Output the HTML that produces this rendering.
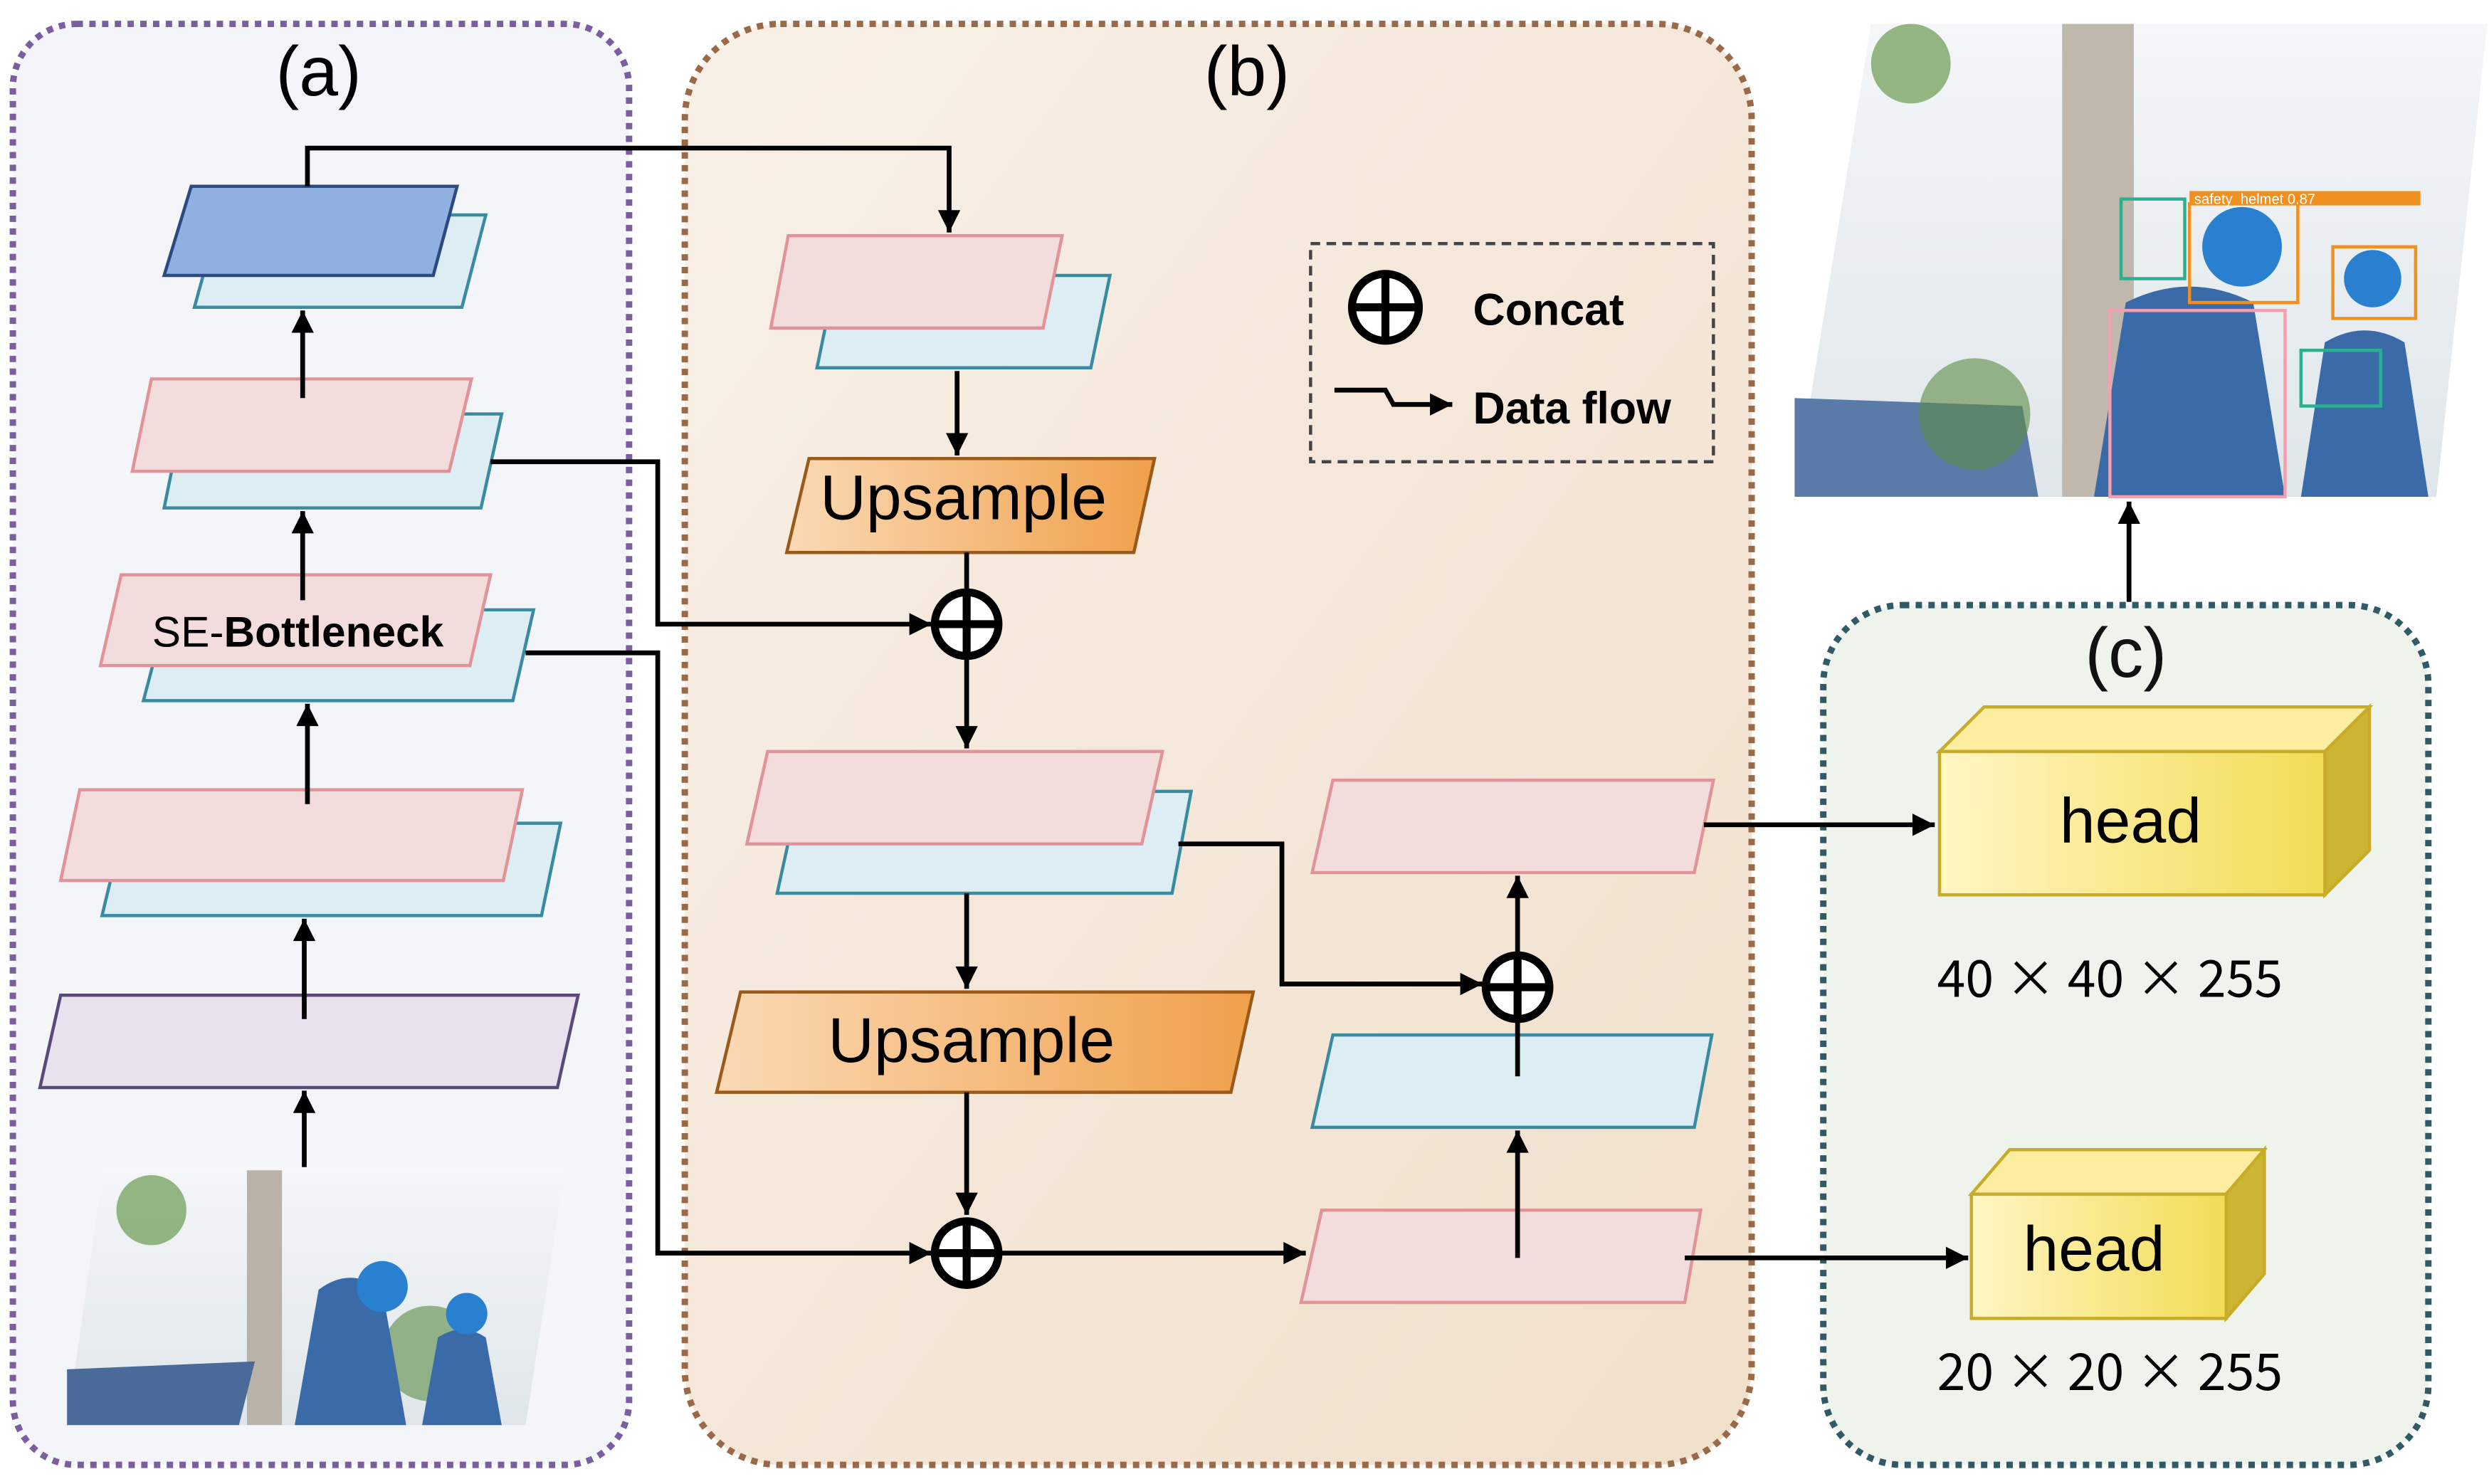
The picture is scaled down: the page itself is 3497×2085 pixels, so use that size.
<!DOCTYPE html>
<html><head><meta charset="utf-8"><style>
html,body{margin:0;padding:0;background:#fff;}
svg{display:block;}
text{font-family:"Liberation Sans",Arial,sans-serif;}
.cj{font-family:"Noto Sans CJK SC","Liberation Sans",sans-serif;}
</style></head><body>
<svg width="3497" height="2085" viewBox="0 0 1563 932" xmlns="http://www.w3.org/2000/svg">
<defs>
<linearGradient id="bg" x1="0" y1="0" x2="1" y2="1"><stop offset="0" stop-color="#f8f0e8"/><stop offset="1" stop-color="#f1dfcb"/></linearGradient>
<linearGradient id="up" x1="0" y1="0" x2="1" y2="0"><stop offset="0" stop-color="#fad9b5"/><stop offset="1" stop-color="#f0a04a"/></linearGradient>
<linearGradient id="hd" x1="0" y1="0" x2="1" y2="0"><stop offset="0" stop-color="#fff6c4"/><stop offset="1" stop-color="#f2dc55"/></linearGradient>
<linearGradient id="sky" x1="0" y1="0" x2="0" y2="1"><stop offset="0" stop-color="#f4f6f8"/><stop offset="1" stop-color="#dfe6ea"/></linearGradient>
<marker id="a2" viewBox="0 0 10 10" markerWidth="16" markerHeight="14" refX="10" refY="5" orient="auto" markerUnits="userSpaceOnUse"><path d="M0,0 L10,5 L0,10 z" fill="#000"/></marker>
</defs>

<rect x="8" y="15" width="387" height="905" rx="40" fill="#f3f5f9" stroke="#7a5ea0" stroke-width="4" stroke-dasharray="4,4"/>
<rect x="430" y="15" width="670" height="905" rx="60" fill="url(#bg)" stroke="#9a6a48" stroke-width="4" stroke-dasharray="4,4"/>
<rect x="1145" y="380" width="380" height="540" rx="50" fill="#eef3ec" stroke="#2f5a66" stroke-width="4" stroke-dasharray="4,4"/>
<text x="200" y="60" font-size="44" text-anchor="middle">(a)</text>
<text x="783" y="60" font-size="44" text-anchor="middle">(b)</text>
<text x="1335" y="425" font-size="44" text-anchor="middle" fill="#111">(c)</text>

<g stroke-width="2">
<polygon points="138,135 305,135 290,193 122,193" fill="#dcedf3" stroke="#3a8aa0"/>
<polygon points="120,117 287,117 272,173 103,173" fill="#8fb0e0" stroke="#2c4a80"/>
<polygon points="115,260 315,260 302,319 103,319" fill="#dcedf3" stroke="#3a8aa0"/>
<polygon points="95,238 296,238 282,296 83,296" fill="#f2dcdc" stroke="#e0949a"/>
<polygon points="105,383 335,383 322,440 90,440" fill="#dcedf3" stroke="#3a8aa0"/>
<polygon points="76,361 308,361 295,418 63,418" fill="#f2dcdc" stroke="#e0949a"/>
<polygon points="78,517 352,517 340,575 64,575" fill="#dcedf3" stroke="#3a8aa0"/>
<polygon points="50,496 328,496 316,553 38,553" fill="#f2dcdc" stroke="#e0949a"/>
<polygon points="38,625 363,625 350,683 25,683" fill="#e9e1ee" stroke="#5a4a7a"/>
<polygon points="525,173 697,173 685,231 513,231" fill="#dcedf3" stroke="#3a8aa0"/>
<polygon points="495,148 667,148 655,206 484,206" fill="#f2dcdc" stroke="#e0949a"/>
<polygon points="508,288 725,288 712,347 494,347" fill="url(#up)" stroke="#9a5a1a"/>
<polygon points="502,497 748,497 736,561 488,561" fill="#dcedf3" stroke="#3a8aa0"/>
<polygon points="482,472 730,472 717,530 469,530" fill="#f2dcdc" stroke="#e0949a"/>
<polygon points="465,623 787,623 773,686 450,686" fill="url(#up)" stroke="#9a5a1a"/>
<polygon points="837,490 1076,490 1064,548 824,548" fill="#f2dcdc" stroke="#e0949a"/>
<polygon points="837,650 1075,650 1064,708 824,708" fill="#dcedf3" stroke="#3a8aa0"/>
<polygon points="830,760 1068,760 1058,818 817,818" fill="#f2dcdc" stroke="#e0949a"/>
</g>
<text x="187" y="406" font-size="27" text-anchor="middle"><tspan>SE-</tspan><tspan font-weight="bold">Bottleneck</tspan></text>
<text x="605" y="326" font-size="40" text-anchor="middle">Upsample</text>
<text x="610" y="667" font-size="40" text-anchor="middle">Upsample</text>

<g>
<polygon points="65,733 355,733 330,895 42,895" fill="url(#sky)"/>
<rect x="155" y="735" width="22" height="160" fill="#b8b2a8"/>
<polygon points="42,860 160,855 150,895 42,895" fill="#4a6a9a"/>
<circle cx="95" cy="760" r="22" fill="#6a9a50" opacity="0.7"/>
<circle cx="270" cy="850" r="30" fill="#5a8a45" opacity="0.6"/>
<path d="M200,810 q20,-15 40,0 l15,85 h-70 z" fill="#3a6aa8"/>
<circle cx="240" cy="808" r="16" fill="#2a80d0"/>
<path d="M275,840 q15,-10 30,0 l10,55 h-50 z" fill="#3a6aa8"/>
<circle cx="293" cy="825" r="13" fill="#2a80d0"/>
</g>
<g>
<polygon points="1175,15 1562,15 1530,312 1127,312" fill="url(#sky)"/>
<rect x="1295" y="15" width="45" height="297" fill="#c0b8ac"/>
<polygon points="1127,250 1270,255 1280,312 1127,312" fill="#5a7aa8"/>
<circle cx="1200" cy="40" r="25" fill="#6a9a50" opacity="0.7"/>
<circle cx="1240" cy="260" r="35" fill="#5a8a45" opacity="0.6"/>
<path d="M1335,190 q40,-20 80,0 l20,122 h-120 z" fill="#3a6aa8"/>
<circle cx="1408" cy="155" r="25" fill="#2a80d0"/>
<path d="M1460,215 q25,-15 50,0 l15,97 h-80 z" fill="#3a6aa8"/>
<circle cx="1490" cy="175" r="18" fill="#2a80d0"/>
<g fill="none" stroke-width="2">
<rect x="1332" y="125" width="40" height="50" stroke="#2ab090"/>
<rect x="1375" y="128" width="68" height="62" stroke="#f09020"/>
<rect x="1465" y="155" width="52" height="45" stroke="#f09020"/>
<rect x="1445" y="220" width="50" height="35" stroke="#2ab090"/>
<rect x="1325" y="195" width="110" height="117" stroke="#f0a0b0"/>
</g>
<rect x="1375" y="120" width="145" height="9" fill="#f09020"/>
<text x="1378" y="128" font-size="9" fill="#fff">safety_helmet 0.87</text>
</g>

<g stroke="#000" stroke-width="3" fill="none">
<line x1="191" y1="733" x2="191" y2="685" marker-end="url(#a2)"/>
<line x1="191" y1="640" x2="191" y2="577" marker-end="url(#a2)"/>
<line x1="193" y1="505" x2="193" y2="442" marker-end="url(#a2)"/>
<line x1="190" y1="377" x2="190" y2="321" marker-end="url(#a2)"/>
<line x1="190" y1="250" x2="190" y2="195" marker-end="url(#a2)"/>
<polyline points="193,117 193,93 596,93 596,146" marker-end="url(#a2)"/>
<polyline points="308,290 413,290 413,392 585,392" marker-end="url(#a2)"/>
<polyline points="330,410 413,410 413,787 585,787" marker-end="url(#a2)"/>
<line x1="601" y1="233" x2="601" y2="286" marker-end="url(#a2)"/>
<line x1="607" y1="347" x2="607" y2="370"/>
<line x1="607" y1="412" x2="607" y2="470" marker-end="url(#a2)"/>
<line x1="607" y1="561" x2="607" y2="621" marker-end="url(#a2)"/>
<line x1="607" y1="686" x2="607" y2="763" marker-end="url(#a2)"/>
<line x1="627" y1="787" x2="820" y2="787" marker-end="url(#a2)"/>
<line x1="953" y1="790" x2="953" y2="710" marker-end="url(#a2)"/>
<line x1="953" y1="676" x2="953" y2="640"/>
<line x1="953" y1="600" x2="953" y2="550" marker-end="url(#a2)"/>
<polyline points="740,530 805,530 805,618 931,618" marker-end="url(#a2)"/>
<line x1="1070" y1="518" x2="1215" y2="518" marker-end="url(#a2)"/>
<line x1="1058" y1="790" x2="1236" y2="790" marker-end="url(#a2)"/>
<line x1="1337" y1="378" x2="1337" y2="315" marker-end="url(#a2)"/>
</g>
<g stroke="#000" stroke-width="5" fill="#fff">
<circle cx="607" cy="392" r="20"/><circle cx="607" cy="787" r="20"/><circle cx="953" cy="620" r="20"/>
</g>
<g stroke="#000" stroke-width="5">
<line x1="587" y1="392" x2="627" y2="392"/><line x1="607" y1="372" x2="607" y2="412"/>
<line x1="587" y1="787" x2="627" y2="787"/><line x1="607" y1="767" x2="607" y2="807"/>
<line x1="933" y1="620" x2="973" y2="620"/><line x1="953" y1="600" x2="953" y2="640"/>
</g>

<rect x="823" y="153" width="253" height="137" fill="none" stroke="#444" stroke-width="2" stroke-dasharray="6,4"/>
<circle cx="870" cy="193" r="21" fill="#fff" stroke="#000" stroke-width="5"/>
<line x1="849" y1="193" x2="891" y2="193" stroke="#000" stroke-width="5"/>
<line x1="870" y1="172" x2="870" y2="214" stroke="#000" stroke-width="5"/>
<text x="925" y="204" font-size="28" font-weight="bold">Concat</text>
<polyline points="838,245 870,245 875,254 912,254" fill="none" stroke="#000" stroke-width="3" marker-end="url(#a2)"/>
<text x="925" y="266" font-size="28" font-weight="bold">Data flow</text>

<g stroke="#c8ac28" stroke-width="2">
<polygon points="1218,472 1246,444 1488,444 1460,472" fill="#fbeea0"/>
<polygon points="1460,472 1488,444 1488,534 1460,562" fill="#cdb534"/>
<rect x="1218" y="472" width="242" height="90" fill="url(#hd)"/>
<polygon points="1238,750 1262,722 1422,722 1398,750" fill="#fbeea0"/>
<polygon points="1398,750 1422,722 1422,800 1398,828" fill="#cdb534"/>
<rect x="1238" y="750" width="160" height="78" fill="url(#hd)"/>
</g>
<text x="1338" y="529" font-size="40" text-anchor="middle">head</text>
<text x="1315" y="798" font-size="40" text-anchor="middle">head</text>
<text class="cj" x="1325" y="626" font-size="32" text-anchor="middle">40 × 40 × 255</text>
<text class="cj" x="1325" y="873" font-size="32" text-anchor="middle">20 × 20 × 255</text>
</svg>
</body></html>
